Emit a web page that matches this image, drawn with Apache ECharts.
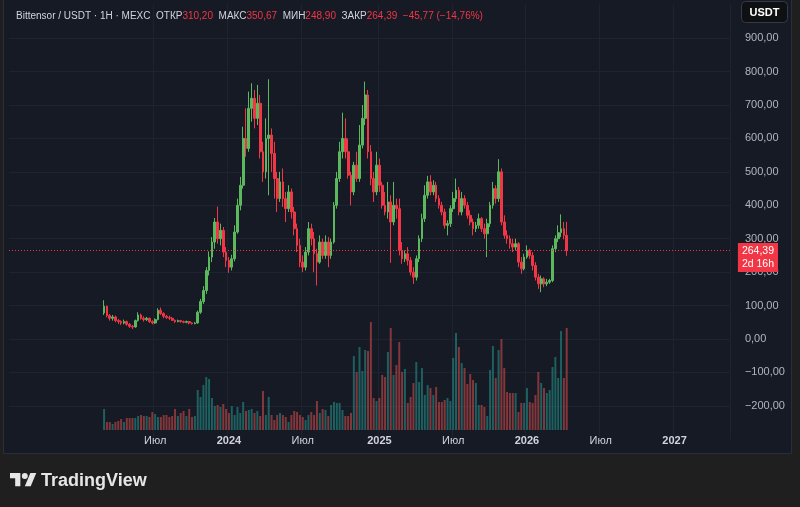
<!DOCTYPE html>
<html>
<head>
<meta charset="utf-8">
<script src="https://cdn.jsdelivr.net/npm/echarts@6/dist/echarts.min.js"></script>
<style>
  html, body { margin: 0; padding: 0; background: #1f1f1f; }
  #chart { width: 800px; height: 507px; }
</style>
</head>
<body>
<div id="chart"></div>
<script>
// weekly candles, first one is the week of 2023-02-27
const firstWeek = '2023-02-27'
const openP = [
  78, 98, 70, 62, 66, 55, 52, 48, 52, 44,
  38, 36, 55, 72, 62, 58, 62, 52, 48, 58,
  86, 76, 68, 64, 62, 56, 52, 55, 52, 50,
  52, 48, 46, 48, 80, 112, 145, 205, 245, 290,
  350, 300, 325, 260, 235, 215, 240, 320, 400, 460,
  600, 570, 690, 720, 660, 705, 560, 500, 600, 610,
  555, 480, 420, 470, 420, 390, 440, 380, 330, 280,
  230, 215, 260, 330, 300, 255, 230, 290, 250, 290,
  250, 290, 400, 480, 560, 600, 560, 490, 440, 520,
  480, 580, 660, 730, 560, 480, 440, 520, 460, 400,
  380, 410, 350, 400, 390, 265, 240, 255, 235, 200,
  185, 240, 300, 360, 430, 470, 440, 460, 420, 400,
  380, 340, 345, 390, 420, 445, 380, 420, 400, 370,
  350, 330, 340, 360, 330, 315, 345, 400, 450, 420,
  500, 350, 310, 300, 285, 275, 285, 230, 210, 245,
  265, 250, 220, 185, 165, 180, 165, 170, 175, 270,
  300, 318, 330, 310.2
]
const closeP = [
  98, 70, 62, 66, 55, 52, 48, 52, 44, 38,
  36, 55, 72, 62, 58, 62, 52, 48, 58, 86,
  76, 68, 64, 62, 56, 52, 55, 52, 50, 52,
  48, 46, 48, 80, 112, 145, 205, 245, 290, 350,
  300, 325, 260, 235, 215, 240, 320, 400, 460, 600,
  570, 690, 720, 660, 705, 560, 500, 600, 610, 555,
  480, 420, 470, 420, 390, 440, 380, 330, 280, 230,
  215, 260, 330, 300, 255, 230, 290, 250, 290, 250,
  290, 400, 480, 560, 600, 560, 490, 440, 520, 480,
  580, 660, 730, 560, 480, 440, 520, 460, 400, 380,
  410, 350, 400, 390, 265, 240, 255, 235, 200, 185,
  240, 300, 360, 430, 470, 440, 460, 420, 400, 380,
  340, 345, 390, 420, 445, 380, 420, 400, 370, 350,
  330, 340, 360, 330, 315, 345, 400, 450, 420, 500,
  350, 310, 300, 285, 275, 285, 230, 210, 245, 265,
  250, 220, 185, 165, 180, 165, 170, 175, 270, 300,
  318, 330, 310.2, 264.39
]
const lowP = [
  72, 65, 55, 55, 50, 45, 42, 44, 40, 33,
  30, 34, 52, 58, 52, 54, 48, 44, 45, 56,
  72, 62, 60, 57, 54, 48, 50, 49, 47, 47,
  44, 43, 44, 46, 75, 105, 135, 190, 230, 270,
  285, 280, 245, 215, 198, 205, 232, 315, 385, 450,
  545, 560, 650, 630, 640, 540, 470, 480, 430, 500,
  420, 380, 410, 395, 350, 380, 360, 310, 260, 215,
  200, 205, 250, 280, 200, 160, 225, 240, 240, 215,
  240, 285, 390, 470, 540, 540, 480, 400, 430, 470,
  470, 570, 640, 540, 460, 410, 430, 440, 390, 370,
  360, 228, 340, 360, 250, 225, 230, 220, 190, 165,
  175, 230, 290, 350, 420, 430, 430, 410, 390, 370,
  330, 310, 335, 380, 410, 370, 370, 390, 360, 340,
  310, 320, 330, 320, 300, 245, 335, 390, 405, 410,
  340, 300, 285, 270, 260, 265, 215, 195, 205, 240,
  240, 205, 175, 150, 140, 155, 158, 165, 170, 260,
  290, 305, 298, 248.9
]
const highP = [
  116, 100, 75, 72, 70, 60, 56, 58, 55, 48,
  42, 58, 80, 76, 68, 66, 64, 56, 62, 92,
  94, 80, 72, 70, 66, 58, 58, 57, 55, 55,
  54, 50, 51, 85, 120, 158, 215, 262, 305, 362,
  396, 345, 335, 275, 245, 252, 340, 420, 485, 635,
  690, 740, 765, 745, 760, 730, 590, 660, 777, 630,
  590, 500, 500, 510, 440, 460, 450, 395, 345, 300,
  250, 275, 350, 345, 320, 270, 310, 300, 310, 305,
  300, 410, 500, 590, 677, 660, 600, 500, 530, 560,
  640, 700, 770, 745, 580, 500, 560, 540, 470, 440,
  470, 430, 470, 420, 420, 290, 265, 275, 245, 215,
  250, 310, 375, 460, 488, 490, 475, 470, 430, 410,
  390, 355, 400, 440, 480, 455, 440, 430, 410, 385,
  360, 350, 375, 365, 345, 360, 410, 470, 460, 538,
  510, 370, 325, 310, 300, 300, 290, 245, 255, 280,
  270, 260, 230, 195, 190, 185, 180, 180, 280, 310,
  340, 373, 350, 350.67
]
// volume, thousands TAO
const volume = [
  21, 8, 8, 6, 8, 9, 11, 8, 12, 12,
  12, 12, 14, 15, 14, 14, 13, 18, 16, 13,
  13, 15, 15, 13, 14, 21, 14, 17, 19, 14,
  21, 13, 14, 40, 33, 45, 53, 51, 32, 24,
  25, 23, 26, 21, 17, 24, 15, 23, 17, 28,
  19, 20, 21, 17, 19, 14, 39, 15, 33, 15,
  10, 15, 17, 15, 13, 8, 15, 19, 18, 15,
  13, 10, 15, 18, 15, 29, 17, 21, 20, 14,
  25, 28, 27, 27, 20, 14, 14, 17, 74, 58,
  83, 59, 80, 79, 108, 32, 29, 32, 55, 53,
  78, 102, 55, 65, 88, 58, 61, 27, 33, 47,
  68, 48, 62, 35, 45, 42, 35, 43, 28, 28,
  30, 32, 29, 72, 97, 83, 67, 62, 46, 56,
  50, 47, 25, 25, 23, 14, 60, 84, 52, 80,
  91, 62, 38, 37, 37, 37, 18, 27, 27, 42,
  28, 27, 35, 58, 47, 42, 37, 40, 63, 73,
  52, 99, 52, 102
]

const axisStart = '2022-07-11'
const axisWeeks = 254
const lastPrice = 264.39
const countdown = '2d 16h'
const changeText = '\u221245,77 (\u221214,76%)'

const UP = '#5cb85c'
const DOWN = '#f23645'
const VOL_UP = 'rgba(38,166,154,0.5)'
const VOL_DOWN = 'rgba(239,83,80,0.5)'
const LOGO = '#e6e6e6'
const FONT = 'Liberation Sans, Arial, sans-serif'

const DAY = 86400000
const t0 = Date.parse(axisStart + 'T00:00:00Z')
const weeks = Array(axisWeeks).fill(null).map((_, i) => new Date(t0 + i * 7 * DAY).toISOString().slice(0, 10))
const offset = weeks.indexOf(firstWeek)

const candles = weeks.map((_, i) => {
  const k = i - offset
  if (k < 0 || k >= openP.length) return ['-', '-', '-', '-']
  return [openP[k], closeP[k], lowP[k], highP[k]]
})
const volData = weeks.map((_, i) => {
  const k = i - offset
  if (k < 0 || k >= volume.length) return '-'
  return { value: volume[k], itemStyle: { color: closeP[k] >= openP[k] ? VOL_UP : VOL_DOWN } }
})

const showTick = (index) => {
  const d = weeks[index]
  const m = d.slice(5, 7)
  return d >= '2023-07' && (m === '01' || m === '07') && +d.slice(8) <= 7
}
const fmt = (v) => v.toFixed(2).replace('.', ',').replace('-', '\u2212')

const n = openP.length - 1
const header = `{n|Bittensor / USDT · 1H · MEXC}  {l|ОТКР}{v|${fmt(openP[n])}}  {l|МАКС}{v|${fmt(highP[n])}}  ` +
  `{l|МИН}{v|${fmt(lowP[n])}}  {l|ЗАКР}{v|${fmt(closeP[n])}}  {v|${changeText}}`

const txt = (color) => ({ color, fontSize: 10, fontWeight: 'normal', fontFamily: FONT })

const option = {
  backgroundColor: '#161a25',
  animation: false,
  textStyle: { fontFamily: FONT },
  title: {
    left: 11,
    top: 6,
    text: header,
    textStyle: {
      fontSize: 10,
      fontWeight: 'normal',
      rich: { n: txt('#d1d4dc'), l: txt('#d1d4dc'), v: txt(DOWN) }
    }
  },
  grid: { left: 9, right: 70.1, top: 4.7, bottom: 67.7 },
  xAxis: {
    type: 'category',
    data: weeks,
    axisLine: { show: false },
    axisTick: { show: false },
    axisLabel: {
      interval: (index) => showTick(index),
      margin: -4,
      formatter: (v) => v.slice(5, 7) === '01' ? `{y|${v.slice(0, 4)}}` : '{m|Июл}',
      rich: {
        y: { color: '#d1d4dc', fontSize: 11, fontWeight: 'bold', fontFamily: FONT },
        m: { color: '#d1d4dc', fontSize: 11, fontFamily: FONT }
      }
    },
    splitLine: {
      show: true,
      interval: (index) => showTick(index),
      lineStyle: { color: '#1f2330' }
    }
  },
  yAxis: [
    {
      type: 'value',
      position: 'right',
      min: -300,
      max: 1000,
      interval: 100,
      axisLine: { show: false },
      axisTick: { show: false },
      axisLabel: {
        color: '#b2b5be',
        fontSize: 11,
        margin: 15,
        formatter: (v) => (v < -200 || v > 900) ? '' : fmt(v)
      },
      splitLine: { showMinLine: false, showMaxLine: false, lineStyle: { color: '#1f2330' } }
    },
    {
      type: 'value',
      min: -9.3,
      max: 425.3,
      show: false,
      splitLine: { show: false }
    }
  ],
  series: [
    {
      type: 'bar',
      name: 'Volume',
      yAxisIndex: 1,
      data: volData,
      barWidth: 2,
      z: 1
    },
    {
      type: 'candlestick',
      name: 'TAO',
      data: candles,
      barWidth: 2.2,
      z: 3,
      itemStyle: {
        color: UP,
        color0: DOWN,
        borderColor: UP,
        borderColor0: DOWN,
        borderWidth: 1
      },
      markLine: {
        silent: true,
        symbol: ['none', 'none'],
        data: [{ yAxis: lastPrice }],
        lineStyle: { color: DOWN, type: [1, 2], width: 1 },
        label: {
          show: true,
          position: 'end',
          distance: 8,
          offset: [0, 7],
          formatter: () => `${fmt(lastPrice)}\n${countdown}`,
          backgroundColor: DOWN,
          color: '#ffffff',
          fontSize: 10.5,
          lineHeight: 13,
          padding: [2, 4, 1, 4],
          fontFamily: FONT
        }
      }
    }
  ],
  graphic: [
    // outer frame around the pane
    { type: 'rect', z: 100, shape: { x: 0, y: 454, width: 800, height: 53 }, style: { fill: '#1f1f1f' } },
    { type: 'rect', z: 100, shape: { x: 0, y: 0, width: 3, height: 454 }, style: { fill: '#1f1f1f' } },
    { type: 'rect', z: 100, shape: { x: 792, y: 0, width: 8, height: 454 }, style: { fill: '#1f1f1f' } },
    { type: 'polyline', z: 101, shape: { points: [[3.5, 0], [3.5, 453.5], [791.5, 453.5], [791.5, 0]] }, style: { stroke: '#2a2e39', lineWidth: 1, fill: null } },
    // currency button
    { type: 'rect', z: 100, shape: { x: 741.5, y: 1.5, width: 46, height: 21, r: 4 }, style: { fill: '#0f1014', stroke: '#363a45', lineWidth: 1 } },
    { type: 'text', z: 101, style: { x: 764.5, y: 12.5, text: 'USDT', fill: '#ffffff', font: 'bold 11px Liberation Sans, Arial, sans-serif', align: 'center', verticalAlign: 'middle' } },
    // TradingView logo
    {
      type: 'group', x: 10, y: 470, scaleX: 0.74, scaleY: 0.74,
      children: [
        { type: 'polygon', z: 102, shape: { points: [[0, 4], [14, 4], [14, 22], [7, 22], [7, 11], [0, 11]] }, style: { fill: LOGO } },
        { type: 'circle', z: 102, shape: { cx: 20, cy: 8, r: 4 }, style: { fill: LOGO } },
        { type: 'polygon', z: 102, shape: { points: [[27.5, 4], [35.5, 4], [28, 22], [20, 22]] }, style: { fill: LOGO } }
      ]
    },
    { type: 'text', z: 101, style: { x: 41, y: 481, text: 'TradingView', fill: LOGO, font: 'bold 18px Liberation Sans, Arial, sans-serif', verticalAlign: 'middle' } }
  ]
}

echarts.init(document.getElementById('chart')).setOption(option)
</script>
</body>
</html>
